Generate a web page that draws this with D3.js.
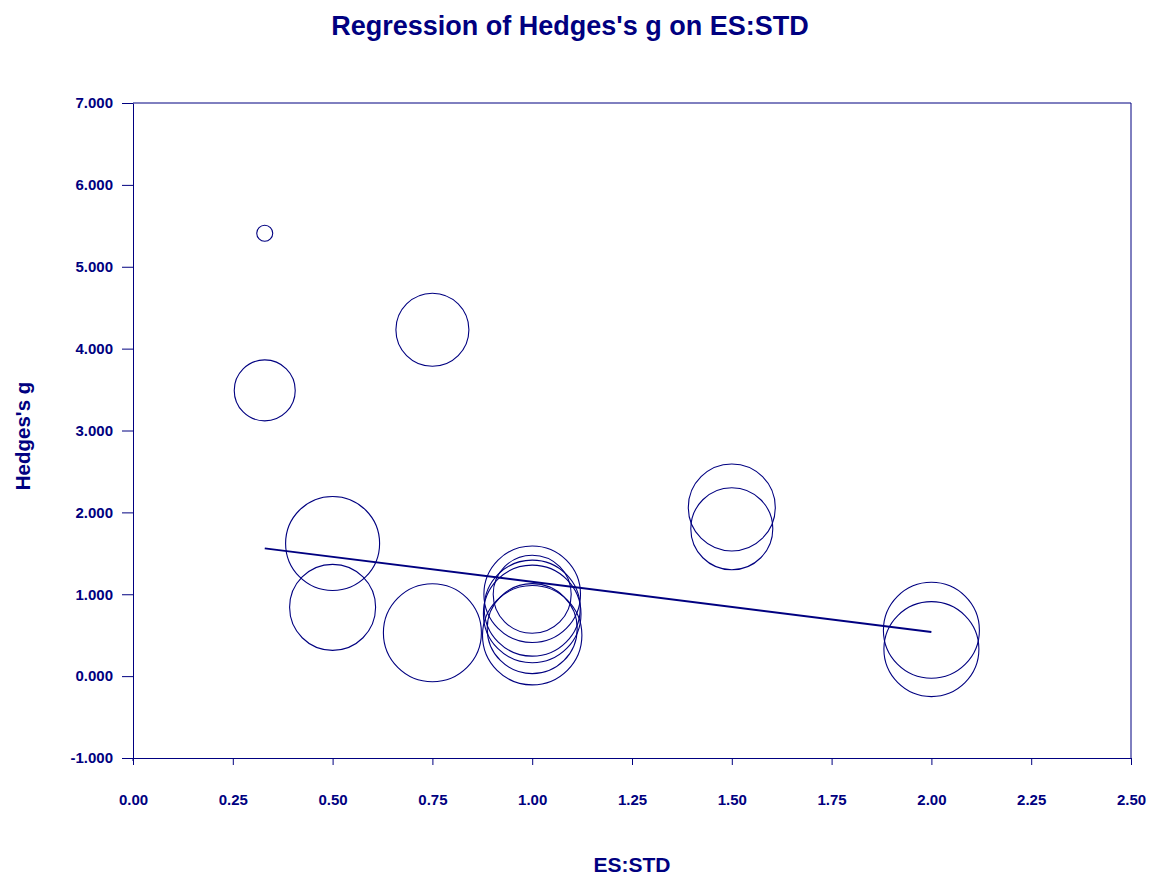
<!DOCTYPE html>
<html>
<head>
<meta charset="utf-8">
<script src="https://cdn.jsdelivr.net/npm/d3@7"></script>
<style>
  html, body { margin: 0; padding: 0; background: #fff; }
  svg { display: block; font-family: Arial, "Liberation Sans", sans-serif; }
</style>
</head>
<body>
<svg id="chart" width="1149" height="876"></svg>
<script>
// ---- data ----
const esStd   = [0.33, 0.33, 0.75, 0.50, 0.50, 0.75, 1.00, 1.00, 1.00, 1.00, 1.00, 1.00, 1.50, 1.50, 2.00, 2.00];
const hedgesG = [5.41, 3.49, 4.23, 1.62, 0.84, 0.53, 1.00, 1.00, 0.83, 0.76, 0.58, 0.50, 2.06, 1.80, 0.56, 0.33];
const weights = [8, 30.5, 36.5, 47, 43, 49, 48.3, 39, 48, 48.8, 45, 49.7, 43.5, 41, 48, 47.5];
const regX = [0.33, 2.00];
const regIntercept = 1.762;
const regSlope = -0.611;
const xTicks = [0, 0.25, 0.5, 0.75, 1.0, 1.25, 1.5, 1.75, 2.0, 2.25, 2.5];
const yTicks = [-1, 0, 1, 2, 3, 4, 5, 6, 7];
const title = "Regression of Hedges's g on ES:STD";
const xTitle = "ES:STD";
const yTitle = "Hedges's g";

// ---- layout ----
const navy = "#000080";
const mLeft = 133, mRight = 1131, mTop = 103, mBottom = 758;
const svg = d3.select("#chart");

const x = d3.scaleLinear().domain([0, 2.5]).range([mLeft, mRight]);
const y = d3.scaleLinear().domain([-1, 7]).range([mBottom, mTop]);
const r = d3.scaleLinear().domain([0, 50]).range([0, 50]);

// frame (top & right)
svg.append("path")
  .attr("d", `M${mLeft},${mTop}H${mRight}V${mBottom}`)
  .attr("fill", "none").attr("stroke", navy).attr("stroke-width", 1);

// x axis
const xAxis = svg.append("g").attr("transform", `translate(0,${mBottom})`)
  .call(d3.axisBottom(x).tickValues(xTicks).tickFormat(d3.format(".2f")).tickSizeOuter(0).tickSizeInner(7).tickPadding(29));
// y axis
const yAxis = svg.append("g").attr("transform", `translate(${mLeft},0)`)
  .call(d3.axisLeft(y).tickValues(yTicks).tickFormat(d3.format(".3f")).tickSizeOuter(0).tickSizeInner(11).tickPadding(9));

[xAxis, yAxis].forEach(g => {
  g.select(".domain").attr("stroke", navy).attr("stroke-width", 1);
  g.selectAll(".tick line").attr("stroke", navy).attr("stroke-width", 1);
  g.selectAll(".tick text").attr("fill", navy).attr("font-size", 15).attr("font-weight", "bold")
    .attr("font-family", "Arial, 'Liberation Sans', sans-serif");
});
// use an ASCII hyphen for the negative label, as in the reference
yAxis.selectAll(".tick text").text(d => d3.format(".3f")(d).replace("\u2212", "-"));
// small axis overhang at the origin corner
svg.append("line").attr("x1", mLeft).attr("x2", mLeft).attr("y1", mBottom).attr("y2", mBottom + 3)
  .attr("stroke", navy);

// bubbles
svg.append("g").selectAll("circle")
  .data(esStd.map((v, i) => ({ x: v, y: hedgesG[i], w: weights[i] })))
  .join("circle")
  .attr("cx", d => x(d.x))
  .attr("cy", d => y(d.y))
  .attr("r", d => r(d.w))
  .attr("fill", "none")
  .attr("stroke", navy)
  .attr("stroke-width", 1.1);

// regression line
svg.append("line")
  .attr("x1", x(regX[0])).attr("y1", y(regIntercept + regSlope * regX[0]))
  .attr("x2", x(regX[1])).attr("y2", y(regIntercept + regSlope * regX[1]))
  .attr("stroke", navy).attr("stroke-width", 2);

// titles
svg.append("text").attr("x", 570).attr("y", 35).attr("text-anchor", "middle")
  .attr("fill", navy).attr("font-size", 27).attr("font-weight", "bold").text(title);
svg.append("text").attr("x", 632).attr("y", 872).attr("text-anchor", "middle")
  .attr("fill", navy).attr("font-size", 21).attr("font-weight", "bold").text(xTitle);
svg.append("text").attr("transform", "translate(30,436) rotate(-90)").attr("text-anchor", "middle")
  .attr("fill", navy).attr("font-size", 20.5).attr("font-weight", "bold").text(yTitle);
</script>
</body>
</html>
